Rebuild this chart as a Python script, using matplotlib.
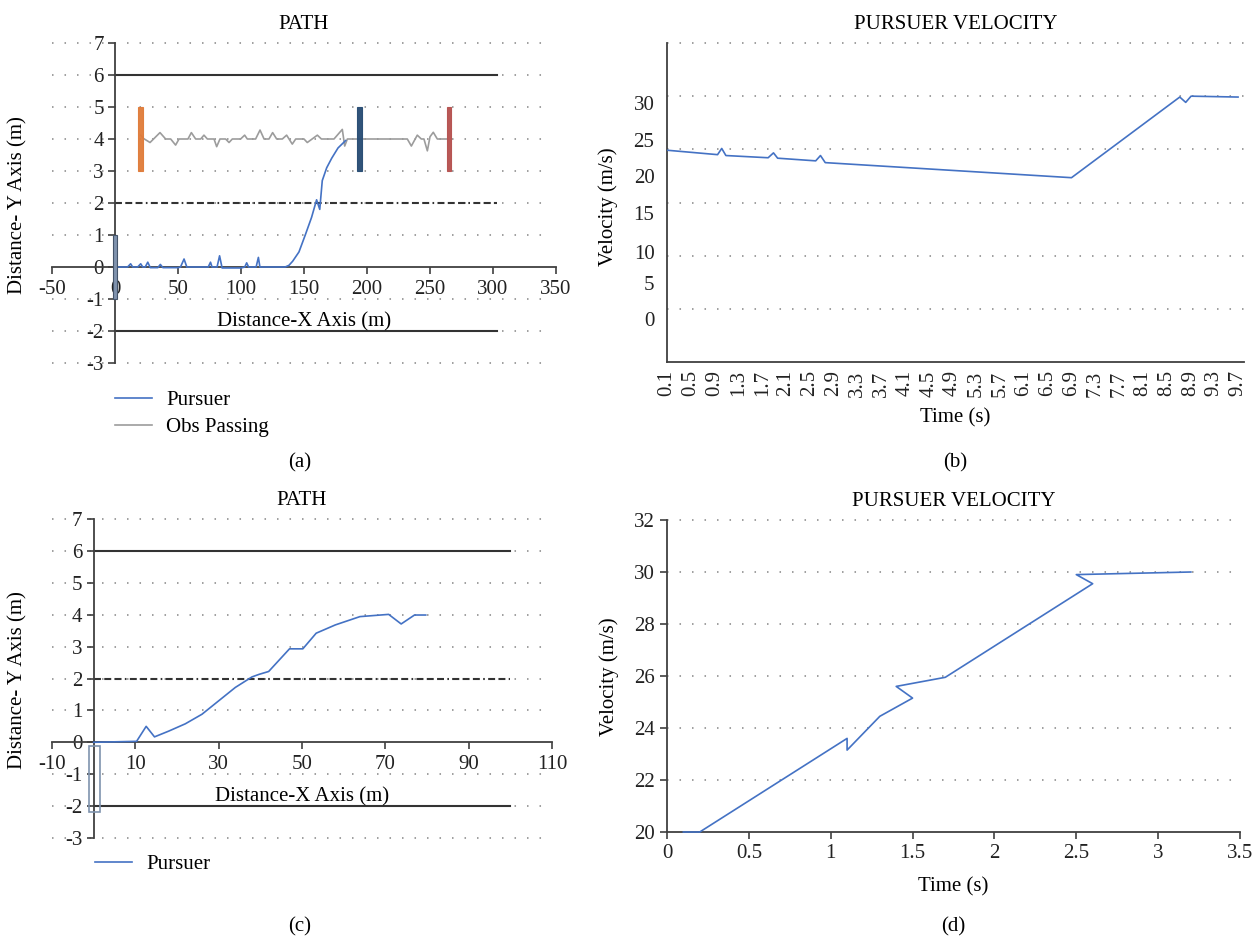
import matplotlib
matplotlib.use('Agg')
import matplotlib.pyplot as plt
from matplotlib.patches import Rectangle
from matplotlib.lines import Line2D

plt.rcParams['font.family'] = ['Liberation Serif', 'DejaVu Serif']
plt.rcParams['font.size'] = 15
plt.rcParams['lines.scale_dashes'] = False
plt.rcParams['axes.unicode_minus'] = False

# ---------------- data ----------------
# Panel (a): path with obstacles
a_xticks = [-50, 0, 50, 100, 150, 200, 250, 300, 350]
a_yticks = [-3, -2, -1, 0, 1, 2, 3, 4, 5, 6, 7]
road_x = [0, 303]
lane_edges_y = [6, -2]
lane_center_y = 2
obstacle_x = [20, 194, 265]
obstacle_y = [3, 5]
obstacle_colors = ['#E07B39', '#264B73', '#B5504E']
start_y = [-1, 1]

a_pursuer_x = [0, 10, 12.4, 14, 18, 20.4, 22, 24, 26, 28, 34, 36, 38, 50, 52, 54.8, 57, 60,
               74, 75.8, 77, 81, 83, 85, 100, 103, 104.5, 106, 112, 113.8, 115, 125, 135,
               138, 141, 146, 151, 156, 160, 162.5, 164.5, 168, 172, 177, 183]
a_pursuer_y = [0, 0, 0.1, 0, 0, 0.1, 0, 0, 0.15, -0.02, -0.02, 0.08, -0.02, -0.02, 0, 0.25, 0, 0,
               0, 0.15, 0, 0, 0.35, -0.03, -0.03, 0, 0.13, 0, 0, 0.3, 0, 0, 0,
               0.05, 0.18, 0.47, 1.0, 1.55, 2.1, 1.8, 2.7, 3.1, 3.4, 3.72, 3.95]

obs_x = [20.4, 22.5, 27.8, 35.7, 40.2, 44.2, 48.1, 50.8, 57.9, 60.6, 64.0, 68.0, 70.6, 73.3,
         78.6, 80.7, 83.3, 87.8, 90.5, 93.1, 99.7, 102.9, 105.0, 111.6, 115.1, 118.3, 122.2,
         125.1, 128.3, 132.8, 136.2, 140.7, 143.4, 150.0, 152.6, 160.6, 163.8, 173.8, 180.4,
         182.3, 184.4, 232.0, 235.2, 239.9, 243.1, 245.2, 247.9, 250.0, 252.6, 255.8, 263.8]
obs_y = [4.12, 4.02, 3.89, 4.20, 4.0, 4.0, 3.81, 4.0, 4.0, 4.20, 4.0, 4.0, 4.12, 4.0,
         4.0, 3.76, 4.0, 4.0, 3.89, 4.0, 4.0, 4.12, 4.0, 4.0, 4.28, 4.0, 4.0,
         4.20, 4.0, 4.0, 4.12, 3.84, 4.0, 4.0, 3.89, 4.12, 4.0, 4.0, 4.30,
         3.78, 4.0, 4.0, 3.78, 4.12, 4.0, 4.0, 3.63, 4.07, 4.21, 4.0, 4.0]

# Panel (b): pursuer velocity, long run
b_t = [0.1, 0.95, 1.02, 1.09, 1.8, 1.89, 1.96, 2.6, 2.68, 2.76, 6.9, 8.72, 8.82, 8.91, 9.7]
b_v = [23.9, 23.4, 24.1, 23.3, 23.05, 23.6, 23.0, 22.7, 23.3, 22.5, 20.8, 29.9, 29.3, 30.0, 29.9]
b_grid = [6, 12, 18, 24, 30, 36]
b_ytick_pos = [29.2, 25.0, 21.0, 16.8, 12.4, 8.9, 4.8]
b_ytick_labels = ['30', '25', '20', '15', '10', '5', '0']
b_xtick_labels = ['0.1', '0.5', '0.9', '1.3', '1.7', '2.1', '2.5', '2.9', '3.3', '3.7', '4.1',
                  '4.5', '4.9', '5.3', '5.7', '6.1', '6.5', '6.9', '7.3', '7.7', '8.1', '8.5',
                  '8.9', '9.3', '9.7']

# Panel (c): path, short run
c_xticks = [-10, 10, 30, 50, 70, 90, 110]
c_road_x = [0, 100]
c_start_box_x = [-1, 1.5]
c_start_box_y = [-2.2, -0.12]
c_pursuer_x = [0, 10.3, 12.6, 14.6, 18, 22, 26, 30, 34, 38, 39.7, 42.0, 47.0, 50.2, 53.4,
               58.0, 63.9, 70.8, 73.8, 77.0, 79.7]
c_pursuer_y = [0, 0.03, 0.5, 0.17, 0.35, 0.58, 0.88, 1.3, 1.72, 2.05, 2.13, 2.22, 2.93, 2.93, 3.42,
               3.68, 3.94, 4.01, 3.71, 3.99, 3.99]

# Panel (d): pursuer velocity, short run
d_t = [0.1, 0.2, 1.1, 1.1, 1.3, 1.5, 1.4, 1.7, 2.6, 2.5, 3.2]
d_v = [20, 20, 23.6, 23.15, 24.45, 25.15, 25.6, 25.95, 29.55, 29.9, 30.0]
d_xticks = [0, 0.5, 1, 1.5, 2, 2.5, 3, 3.5]
d_xtick_labels = ['0', '0.5', '1', '1.5', '2', '2.5', '3', '3.5']
d_yticks = [20, 22, 24, 26, 28, 30, 32]

# ---------------- style ----------------
BLUE = '#4472C4'
GREY = '#9C9C9C'
AXC = '#404040'
GRIDC = '#8f8f8f'
DOT = (0, (1.1, 7.9))
DASHDOT = (0, (5, 2.4, 5, 2.4, 5, 2.4, 1.2, 2.4))
FS = 15

W, H = 1260, 941
fig = plt.figure(figsize=(W / 100, H / 100), dpi=100)


def fax(l, t, r, b):
    return fig.add_axes([l / W, 1 - b / H, (r - l) / W, (b - t) / H])


def style_spines(ax, left_at=None, bottom_at=None):
    for s in ['top', 'right']:
        ax.spines[s].set_visible(False)
    for s in ['left', 'bottom']:
        ax.spines[s].set_color(AXC)
        ax.spines[s].set_linewidth(1.3)
    if left_at is not None:
        ax.spines['left'].set_position(('data', left_at))
    if bottom_at is not None:
        ax.spines['bottom'].set_position(('data', bottom_at))


def hgrid(ax, ys, x0, x1):
    for y in ys:
        ax.plot([x0, x1], [y, y], color=GRIDC, lw=1.2, linestyle=DOT, zorder=0.5,
                clip_on=False)


def path_panel(ax, xlim, xticks, rx, px, py):
    ax.set_xlim(*xlim)
    ax.set_ylim(-3, 7)
    style_spines(ax, left_at=0, bottom_at=0)
    ax.set_xticks(xticks)
    ax.set_xticklabels([str(v) for v in xticks])
    ax.set_yticks(a_yticks)
    ax.set_yticklabels([str(v) for v in a_yticks])
    ax.tick_params(axis='both', direction='out', length=5, width=1.2, color=AXC,
                   labelsize=FS, labelcolor='#222222')
    ax.tick_params(axis='y', pad=3)
    ax.tick_params(axis='x', pad=4)
    hgrid(ax, [v for v in a_yticks if v != 0], xlim[0], xlim[0] + (xlim[1] - xlim[0]) * 0.98)
    for y in lane_edges_y:
        ax.plot(rx, [y, y], color='#333333', lw=1.5, zorder=2)
    ax.plot(rx, [lane_center_y, lane_center_y], color='#333333', lw=1.5,
            linestyle=DASHDOT, zorder=2)
    ax.plot(px, py, color=BLUE, lw=1.2, zorder=4)


# ---- (a) ----
axA = fax(52, 43, 556, 363)
path_panel(axA, (-50, 350), a_xticks, road_x, a_pursuer_x, a_pursuer_y)
axA.plot(obs_x, obs_y, color=GREY, lw=1.2, zorder=3)
for x, c in zip(obstacle_x, obstacle_colors):
    axA.add_patch(Rectangle((x - 1.9, obstacle_y[0]), 3.8, obstacle_y[1] - obstacle_y[0],
                            facecolor=c, edgecolor=c, lw=0.8, alpha=0.95, zorder=5))
axA.add_patch(Rectangle((-1.9, start_y[0]), 3.8, start_y[1] - start_y[0],
                        facecolor='#8093AE', edgecolor='#44546A', lw=0.8, zorder=5))
axA.text(150, -1.72, 'Distance-X Axis (m)', ha='center', va='center', fontsize=FS, zorder=6)
axA.set_title('PATH', fontsize=FS, pad=10)

leg_handles = [Line2D([], [], color=BLUE, lw=1.2), Line2D([], [], color=GREY, lw=1.2)]
fig.legend(leg_handles, ['Pursuer', 'Obs Passing'], loc='upper left',
           bbox_to_anchor=(105 / W, 1 - 380 / H), frameon=False, borderpad=0,
           handlelength=1.75, handletextpad=0.7, labelspacing=0.35, fontsize=FS)
fig.text(18 / W, 1 - 205 / H, 'Distance- Y Axis (m)', rotation=90, ha='center', va='center',
         fontsize=FS)
fig.text(300 / W, 1 - 463 / H, '(a)', ha='center', va='center', fontsize=FS)

# ---- (b) ----
axB = fax(667, 43, 1244, 362)
axB.set_xlim(0.1, 9.8)
axB.set_ylim(0, 36)
style_spines(axB)
hgrid(axB, b_grid, 0.1, 9.8)
axB.plot(b_t, b_v, color=BLUE, lw=1.2, zorder=4)
axB.set_yticks(b_ytick_pos)
axB.set_yticklabels(b_ytick_labels)
axB.set_xticks([float(s) for s in b_xtick_labels])
axB.set_xticklabels(b_xtick_labels, rotation=90)
axB.tick_params(axis='both', length=0, labelsize=FS, labelcolor='#222222')
axB.tick_params(axis='y', pad=9)
axB.tick_params(axis='x', pad=6)
axB.set_title('PURSUER VELOCITY', fontsize=FS, pad=10)
fig.text(955 / W, 1 - 418 / H, 'Time (s)', ha='center', va='center', fontsize=FS)
fig.text(608 / W, 1 - 207 / H, 'Velocity (m/s)', rotation=90, ha='center', va='center',
         fontsize=FS)
fig.text(955 / W, 1 - 463 / H, '(b)', ha='center', va='center', fontsize=FS)

# ---- (c) ----
axC = fax(52, 519, 552, 838)
path_panel(axC, (-10, 110), c_xticks, c_road_x, c_pursuer_x, c_pursuer_y)
axC.add_patch(Rectangle((c_start_box_x[0], c_start_box_y[0]),
                        c_start_box_x[1] - c_start_box_x[0],
                        c_start_box_y[1] - c_start_box_y[0],
                        facecolor='none', edgecolor='#7F93AE', lw=1.2, zorder=5))
axC.text(50, -1.72, 'Distance-X Axis (m)', ha='center', va='center', fontsize=FS, zorder=6)
axC.set_title('PATH', fontsize=FS, pad=10)
fig.legend([Line2D([], [], color=BLUE, lw=1.2)], ['Pursuer'], loc='upper left',
           bbox_to_anchor=(85 / W, 1 - 844 / H), frameon=False, borderpad=0,
           handlelength=1.75, handletextpad=0.7, fontsize=FS)
fig.text(18 / W, 1 - 680 / H, 'Distance- Y Axis (m)', rotation=90, ha='center', va='center',
         fontsize=FS)
fig.text(300 / W, 1 - 927 / H, '(c)', ha='center', va='center', fontsize=FS)

# ---- (d) ----
axD = fax(667, 520, 1240, 832)
axD.set_xlim(0, 3.5)
axD.set_ylim(20, 32)
style_spines(axD)
hgrid(axD, [v for v in d_yticks if v != 20], 0, 3.5)
axD.plot(d_t, d_v, color=BLUE, lw=1.2, zorder=4, clip_on=False)
axD.set_xticks(d_xticks)
axD.set_xticklabels(d_xtick_labels)
axD.set_yticks(d_yticks)
axD.set_yticklabels([str(v) for v in d_yticks])
axD.tick_params(axis='both', direction='out', length=5, width=1.2, color=AXC,
                labelsize=FS, labelcolor='#222222')
axD.set_title('PURSUER VELOCITY', fontsize=FS, pad=10)
fig.text(953 / W, 1 - 887 / H, 'Time (s)', ha='center', va='center', fontsize=FS)
fig.text(609 / W, 1 - 677 / H, 'Velocity (m/s)', rotation=90, ha='center', va='center',
         fontsize=FS)
fig.text(953 / W, 1 - 927 / H, '(d)', ha='center', va='center', fontsize=FS)

fig.savefig('out.png', dpi=100, facecolor='white')
